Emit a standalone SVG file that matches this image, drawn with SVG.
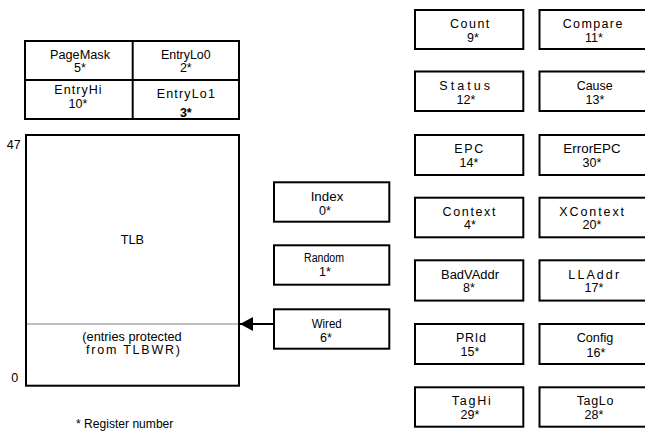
<svg xmlns="http://www.w3.org/2000/svg" width="645" height="434" viewBox="0 0 645 434">
<style>
rect.b{fill:#fff;stroke:#000;stroke-width:2}
text{font-family:"Liberation Sans",Arial,sans-serif;font-size:12.5px;fill:#000;text-anchor:middle}
.bold{font-weight:bold}
</style>
<defs>
<marker id="ah" markerWidth="14" markerHeight="14" refX="13" refY="7" orient="auto" markerUnits="userSpaceOnUse">
<path d="M0,0 L13,7 L0,14 Z" fill="#000"/>
</marker>
</defs>
<rect width="645" height="434" fill="#fff"/>
<g id="entry-block">
<rect class="b" x="25" y="41" width="214" height="78"/>
<line x1="132.7" y1="41" x2="132.7" y2="119" stroke="#000" stroke-width="2"/>
<line x1="25" y1="80" x2="239" y2="80" stroke="#000" stroke-width="2"/>
</g>
<g id="PageMask"><text x="80" y="58.5" textLength="60" lengthAdjust="spacingAndGlyphs">PageMask</text><text x="80" y="72">5*</text></g>
<g id="EntryLo0"><text x="185.8" y="58.5" textLength="49.7" lengthAdjust="spacingAndGlyphs">EntryLo0</text><text x="185.8" y="72">2*</text></g>
<g id="EntryHi"><text x="78" y="94" textLength="47.3" lengthAdjust="spacing">EntryHi</text><text x="78" y="107.5">10*</text></g>
<g id="EntryLo1"><text x="185.8" y="97.5" textLength="58.3" lengthAdjust="spacing">EntryLo1</text><text class="bold" x="185.8" y="116.5">3*</text></g>
<g id="TLB">
<rect class="b" x="26" y="135" width="213" height="250.7"/>
<line x1="27" y1="324" x2="238" y2="324" stroke="#aaa" stroke-width="1.5"/>
<text x="132.3" y="244" textLength="23.3" lengthAdjust="spacingAndGlyphs">TLB</text>
<text x="132" y="340.5" textLength="99.3" lengthAdjust="spacingAndGlyphs">(entries protected</text>
<text x="133" y="354" textLength="94" lengthAdjust="spacing">from TLBWR)</text>
<text x="13.8" y="149.3">47</text>
<text x="14.8" y="381.7">0</text>
</g>
<g id="Index"><rect class="b" x="274" y="182.3" width="115.3" height="39.4"/><text x="327" y="201" textLength="32.7" lengthAdjust="spacingAndGlyphs">Index</text><text x="325" y="214.5">0*</text></g>
<g id="Random"><rect class="b" x="274" y="245.3" width="115.3" height="39.4"/><text x="324" y="262" textLength="40" lengthAdjust="spacingAndGlyphs">Random</text><text x="325" y="275.5">1*</text></g>
<g id="Wired"><rect class="b" x="274" y="309.3" width="115.3" height="39.4"/><text x="326.7" y="328" textLength="30" lengthAdjust="spacingAndGlyphs">Wired</text><text x="326" y="341.5">6*</text></g>
<g id="Count"><rect class="b" x="415" y="10" width="108.3" height="39"/><text x="469.7" y="28" textLength="39.3" lengthAdjust="spacing">Count</text><text x="473" y="41.5">9*</text></g>
<g id="Compare"><rect class="b" x="539.5" y="10" width="108.3" height="39"/><text x="592.5" y="28" textLength="59.7" lengthAdjust="spacing">Compare</text><text x="594" y="41.5">11*</text></g>
<g id="Status"><rect class="b" x="415" y="71.5" width="108.3" height="39.5"/><text x="464.7" y="90" textLength="50.7" lengthAdjust="spacing">Status</text><text x="466" y="103.5">12*</text></g>
<g id="Cause"><rect class="b" x="539.5" y="71.5" width="108.3" height="39.5"/><text x="594.7" y="90" textLength="36" lengthAdjust="spacingAndGlyphs">Cause</text><text x="595" y="103.5">13*</text></g>
<g id="EPC"><rect class="b" x="415" y="135" width="108.3" height="40"/><text x="468.8" y="153" textLength="29" lengthAdjust="spacing">EPC</text><text x="469" y="166.5">14*</text></g>
<g id="ErrorEPC"><rect class="b" x="539.5" y="135" width="108.3" height="40"/><text x="592" y="153" textLength="57.3" lengthAdjust="spacingAndGlyphs">ErrorEPC</text><text x="592" y="166.5">30*</text></g>
<g id="Context"><rect class="b" x="415" y="197.7" width="108.3" height="39.6"/><text x="469" y="215.5" textLength="53" lengthAdjust="spacing">Context</text><text x="470" y="229">4*</text></g>
<g id="XContext"><rect class="b" x="539.5" y="197.7" width="108.3" height="39.6"/><text x="591.7" y="215.5" textLength="64.7" lengthAdjust="spacing">XContext</text><text x="592" y="229">20*</text></g>
<g id="BadVAddr"><rect class="b" x="415" y="260.3" width="108.3" height="40.3"/><text x="470" y="278.5" textLength="58" lengthAdjust="spacingAndGlyphs">BadVAddr</text><text x="469" y="292">8*</text></g>
<g id="LLAddr"><rect class="b" x="539.5" y="260.3" width="108.3" height="40.3"/><text x="593.7" y="278.5" textLength="50.7" lengthAdjust="spacing">LLAddr</text><text x="594" y="292">17*</text></g>
<g id="PRId"><rect class="b" x="415" y="324" width="108.3" height="40"/><text x="471" y="342" textLength="30" lengthAdjust="spacing">PRId</text><text x="470" y="355.5">15*</text></g>
<g id="Config"><rect class="b" x="539.5" y="324" width="108.3" height="40"/><text x="595" y="342" textLength="36.7" lengthAdjust="spacingAndGlyphs">Config</text><text x="596" y="356.5">16*</text></g>
<g id="TagHi"><rect class="b" x="415" y="387.3" width="108.3" height="39.4"/><text x="471.2" y="405" textLength="39" lengthAdjust="spacing">TagHi</text><text x="470" y="418.5">29*</text></g>
<g id="TagLo"><rect class="b" x="539.5" y="387.3" width="108.3" height="39.4"/><text x="595" y="405" textLength="36.7" lengthAdjust="spacing">TagLo</text><text x="594" y="418.5">28*</text></g>
<g id="connectors">
<line x1="274" y1="324" x2="240" y2="324" stroke="#000" stroke-width="2" marker-end="url(#ah)"/>
</g>
<text x="124.7" y="428" textLength="97.3" lengthAdjust="spacingAndGlyphs">* Register number</text>
</svg>
